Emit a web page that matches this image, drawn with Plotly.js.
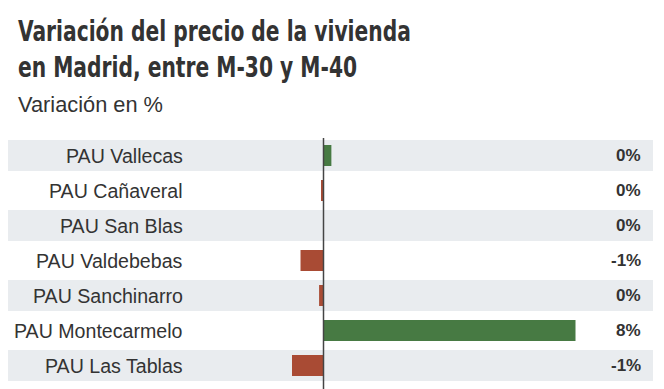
<!DOCTYPE html>
<html>
<head>
<meta charset="utf-8">
<script src="https://cdn.plot.ly/plotly-3.0.1.min.js"></script>
<style>html,body{margin:0;padding:0;background:#fff;}#chart{width:664px;height:389px;}</style>
</head>
<body>
<div id="chart"></div>
<script>
const categories = ["PAU Vallecas","PAU Cañaveral","PAU San Blas","PAU Valdebebas","PAU Sanchinarro","PAU Montecarmelo","PAU Las Tablas"];
const values = [0.25, -0.08, 0, -0.73, -0.14, 8.0, -1.0];
const titleText = "Variación del precio de la vivienda<br>en Madrid, entre M-30 y M-40";
const subtitleText = "Variación en %";

const GREEN = "#477a43", RED = "#a94b34", BAND = "#e9ecef", TXT = "#333333";

const labels = values.map(v => { const r = Math.round(v); return (r === 0 ? "0" : String(r)) + "%"; });

// plot area in pixels: x 8..653, y 138..383
const PX = x => (x - 8) / 645;
const PY = y => (383 - y) / 245;

const shapes = [];
categories.forEach((c, i) => {
  if (i % 2 === 0) {
    shapes.push({type:"rect", xref:"paper", yref:"y", x0:0, x1:1, y0:i-0.443, y1:i+0.443,
      fillcolor:BAND, line:{width:0}, layer:"below"});
  }
});
shapes.push({type:"line", xref:"x", yref:"paper", x0:0, x1:0, y0:PY(138), y1:PY(392),
  line:{color:"#444", width:1.5}, layer:"above"});

const annotations = [];
categories.forEach((c, i) => {
  annotations.push({xref:"paper", yref:"y", x:PX(185), y:c, xanchor:"right", yanchor:"middle",
    text:c, showarrow:false, font:{family:"Liberation Sans, Arial, sans-serif", size:19.6, color:TXT}});
  annotations.push({xref:"paper", yref:"y", x:PX(643), y:c, xanchor:"right", yanchor:"middle",
    text:"<b>"+labels[i]+"</b>", showarrow:false, font:{family:"Liberation Sans, Arial, sans-serif", size:17, color:TXT}});
});
annotations.push({xref:"paper", yref:"paper", x:PX(16), y:PY(90), xanchor:"left", yanchor:"top",
  text:subtitleText, showarrow:false, font:{family:"Liberation Sans, Arial, sans-serif", size:21.8, color:TXT}});

const trace = {
  type:"bar", orientation:"h", y:categories, x:values,
  marker:{color: values.map(v => v >= 0 ? GREEN : RED), line:{width:0}},
  hoverinfo:"none"
};

const layout = {
  width:664, height:389,
  margin:{l:8, r:11, t:138, b:6, pad:0},
  paper_bgcolor:"#fff", plot_bgcolor:"rgba(0,0,0,0)",
  showlegend:false,
  bargap:0.4,
  title:{text:titleText, x:18/664, xanchor:"left", xref:"container", y:1-41/389, yanchor:"top", yref:"container",
    font:{family:"DejaVu Sans Condensed, sans-serif", size:27.5, weight:700, color:TXT}},
  xaxis:{range:[(8-323.5)/31.5, (653-323.5)/31.5], showgrid:false, zeroline:false, showticklabels:false, ticks:"", fixedrange:true},
  yaxis:{type:"category", autorange:"reversed", showgrid:false, zeroline:false, showticklabels:false, ticks:"", fixedrange:true},
  shapes:shapes, annotations:annotations
};

Plotly.newPlot("chart", [trace], layout, {displayModeBar:false, staticPlot:true}).then(gd => {
  // narrow the title horizontally to mimic the condensed bold face of the reference
  const t = gd.querySelector(".gtitle");
  if (t) {
    const bb = t.getBBox();
    const line1 = t.querySelector("tspan");
    const w = line1 && line1.getComputedTextLength ? line1.getComputedTextLength() : bb.width;
    const s = w > 0 ? 393 / w : 1;
    const x0 = bb.x;
    const prev = t.getAttribute("transform") || "";
    t.setAttribute("transform", prev + ` translate(${x0},0) scale(${s},1) translate(${-x0},0)`);
  }
});
</script>
</body>
</html>
